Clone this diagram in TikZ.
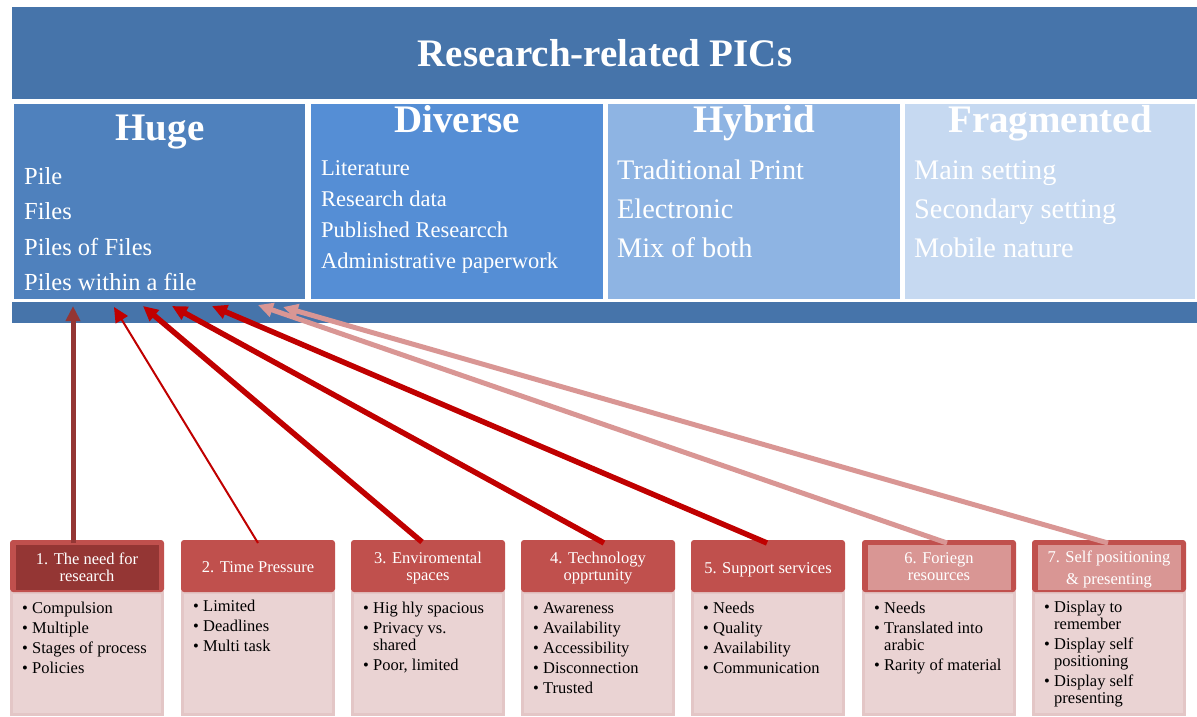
\documentclass[tikz,border=0pt]{standalone}
\usepackage{fontspec}
\setmainfont{Liberation Serif}
\usetikzlibrary{arrows.meta}
\definecolor{bannerblue}{HTML}{4674AA}
\definecolor{hugeblue}{HTML}{4F81BD}
\definecolor{divblue}{HTML}{558ED5}
\definecolor{hybblue}{HTML}{8EB4E3}
\definecolor{fragblue}{HTML}{C6D9F1}
\definecolor{hdrred}{HTML}{C0504D}
\definecolor{darkred}{HTML}{943634}
\definecolor{pinkred}{HTML}{D99694}
\definecolor{bodyfill}{HTML}{EAD3D3}
\definecolor{bodyline}{HTML}{E3C6C6}
\definecolor{arrowred}{HTML}{C00000}
\newcommand{\bul}{\makebox[10pt][l]{\textbullet}}
\newcommand{\cont}{\hspace*{10pt}}
\begin{document}
\begin{tikzpicture}[x=1pt,y=-1pt,
  panel/.style={anchor=north west, inner sep=0pt, outer sep=0pt, draw=none},
  bigtext/.style={anchor=base, inner sep=0pt, text=white, font=\fontsize{39}{39}\selectfont\bfseries},
  itemtext/.style={anchor=base west, inner sep=0pt, text=white},
  hdrbox/.style={panel, fill=hdrred, rounded corners=3pt, minimum width=154pt, minimum height=52pt},
  innerdark/.style={panel, fill=darkred, minimum width=143pt, minimum height=45pt},
  innerpink/.style={panel, fill=pinkred, minimum width=143pt, minimum height=45pt},
  bodybox/.style={panel, fill=bodyfill, draw=bodyline, line width=3pt, minimum width=151pt, minimum height=122pt},
  hdrtext/.style={anchor=base, inner sep=0pt, text=white, align=center, font=\fontsize{16.5}{17}\selectfont},
  bodytext/.style={anchor=base west, inner sep=0pt, text=black, align=left, font=\fontsize{16.5}{17}\selectfont},
  tip/.style={-{Triangle[length=15pt,width=14pt]}},
  arrdark/.style={tip, draw=darkred, line width=5pt},
  arrthin/.style={tip, draw=arrowred, line width=2pt},
  arrred/.style={tip, draw=arrowred, line width=5.5pt},
  arrpink/.style={tip, draw=pinkred, line width=5pt}
]
\useasboundingbox (0,0) rectangle (1197,716);
% top part
\node[panel, fill=bannerblue, minimum width=1185pt, minimum height=92pt] (banner) at (12,7) {};
\node[bigtext] (title) at (605,66) {Research-related PICs};
\node[panel, fill=hugeblue, minimum width=291pt, minimum height=195pt] (huge) at (14,104) {};
\node[panel, fill=divblue, minimum width=292pt, minimum height=195pt] (diverse) at (311,104) {};
\node[panel, fill=hybblue, minimum width=292pt, minimum height=195pt] (hybrid) at (608,104) {};
\node[panel, fill=fragblue, minimum width=290pt, minimum height=195pt] (frag) at (905,104) {};
\node[panel, fill=bannerblue, minimum width=1185pt, minimum height=21pt] (strip) at (12,302) {};
\node[bigtext] (hugeT) at (160,140) {Huge};
\node[bigtext] (divT) at (457,132) {Diverse};
\node[bigtext] (hybT) at (754,132) {Hybrid};
\node[bigtext] (fragT) at (1050,132) {Fragmented};
\begin{scope}[every node/.style={itemtext, font=\fontsize{24.5}{24.5}\selectfont}]
\node (hu1) at (24,184) {Pile};
\node (hu2) at (24,219) {Files};
\node (hu3) at (24,255) {Piles of Files};
\node (hu4) at (24,290) {Piles within a file};
\end{scope}
\begin{scope}[every node/.style={itemtext, font=\fontsize{22.5}{22.5}\selectfont}]
\node (dv1) at (321,175) {Literature};
\node (dv2) at (321,206) {Research data};
\node (dv3) at (321,237) {Published Researcch};
\node (dv4) at (321,268) {Administrative paperwork};
\end{scope}
\begin{scope}[every node/.style={itemtext, font=\fontsize{28.3}{28.3}\selectfont}]
\node (hy1) at (617,179) {Traditional Print};
\node (hy2) at (617,218) {Electronic};
\node (hy3) at (617,257) {Mix of both};
\node (fr1) at (914,179) {Main setting};
\node (fr2) at (914,218) {Secondary setting};
\node (fr3) at (914,257) {Mobile nature};
\end{scope}
% bottom boxes
\node[bodybox] (bd1) at (11.5,592.5) {};
\node[bodybox] (bd2) at (182.5,592.5) {};
\node[bodybox] (bd3) at (352.5,592.5) {};
\node[bodybox] (bd4) at (522.5,592.5) {};
\node[bodybox] (bd5) at (692.5,592.5) {};
\node[bodybox] (bd6) at (863.5,592.5) {};
\node[bodybox] (bd7) at (1033.5,592.5) {};
\node[hdrbox] (hd1) at (10,540) {};
\node[hdrbox] (hd2) at (181,540) {};
\node[hdrbox] (hd3) at (351,540) {};
\node[hdrbox] (hd4) at (521,540) {};
\node[hdrbox] (hd5) at (691,540) {};
\node[hdrbox] (hd6) at (862,540) {};
\node[hdrbox] (hd7) at (1032,540) {};
\node[innerdark] (in1) at (15.5,545) {};
\node[innerpink] (in6) at (867.5,545) {};
\node[innerpink] (in7) at (1037.5,545) {};
% multi-line nodes: base anchor = baseline of last line
\node[hdrtext] (ht1) at (87,581) {1. The need for\\research};
\node[hdrtext] (ht2) at (258,572) {2. Time Pressure};
\node[hdrtext] (ht3) at (428,580) {3. Enviromental\\spaces};
\node[hdrtext] (ht4) at (598,580) {4. Technology\\opprtunity};
\node[hdrtext] (ht5) at (768,573) {5. Support services};
\node[hdrtext] (ht6) at (939,580) {6. Foriegn\\resources};
\node[hdrtext] (ht7) at (1109,584) {7. Self positioning\\[5pt]\&\ presenting};
\node[bodytext] (bt1) at (22,673) {\bul Compulsion\\[3pt]\bul Multiple\\[3pt]\bul Stages of process\\[3pt]\bul Policies};
\node[bodytext] (bt2) at (193,651) {\bul Limited\\[3pt]\bul Deadlines\\[3pt]\bul Multi task};
\node[bodytext] (bt3) at (363,670) {\bul Hig hly spacious\\[3pt]\bul Privacy vs.\\\cont shared\\[3pt]\bul Poor, limited};
\node[bodytext] (bt4) at (533,693) {\bul Awareness\\[3pt]\bul Availability\\[3pt]\bul Accessibility\\[3pt]\bul Disconnection\\[3pt]\bul Trusted};
\node[bodytext] (bt5) at (703,673) {\bul Needs\\[3pt]\bul Quality\\[3pt]\bul Availability\\[3pt]\bul Communication};
\node[bodytext] (bt6) at (874,670) {\bul Needs\\[3pt]\bul Translated into\\\cont arabic\\[3pt]\bul Rarity of material};
\node[bodytext] (bt7) at (1044,703) {\bul Display to\\\cont remember\\[3pt]\bul Display self\\\cont positioning\\[3pt]\bul Display self\\\cont presenting};
% arrow targets
\coordinate (t1) at (73,306);
\coordinate (t2) at (114,307);
\coordinate (t3) at (143,306);
\coordinate (t4) at (172,306);
\coordinate (t5) at (212,306);
\coordinate (t6) at (258,305);
\coordinate (t7) at (283,307);
\draw[arrdark] ([xshift=-14pt,yshift=-3pt]hd1.north) -- (t1);
\draw[arrthin] ([yshift=-3pt]hd2.north) -- (t2);
\draw[arrred] ([xshift=-6pt,yshift=-2pt]hd3.north) -- (t3);
\draw[arrred] ([xshift=6pt,yshift=-3pt]hd4.north) -- (t4);
\draw[arrred] ([xshift=-1pt,yshift=-3pt]hd5.north) -- (t5);
\draw[arrpink] ([xshift=8pt,yshift=-3pt]hd6.north) -- (t6);
\draw[arrpink] ([xshift=-1pt,yshift=-3pt]hd7.north) -- (t7);
\end{tikzpicture}
\end{document}
